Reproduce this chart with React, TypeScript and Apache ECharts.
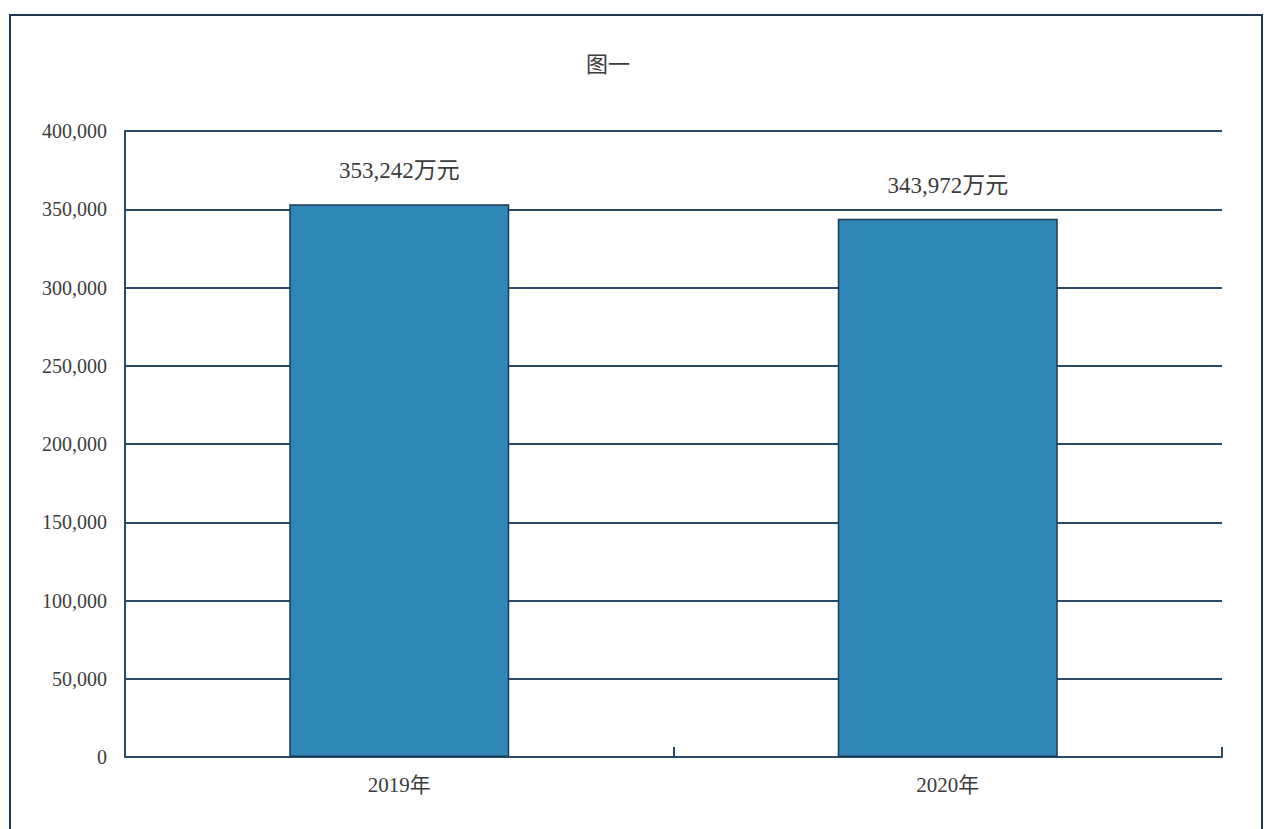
import React, { useEffect, useRef } from "react";
import * as echarts from "echarts";

const categories = ["2019年", "2020年"];
const values = [353242, 343972];
const yTicks = [0, 50000, 100000, 150000, 200000, 250000, 300000, 350000, 400000];
const titleText = "图一";

const FONT = "'Liberation Serif', 'DejaVu Serif', 'Noto Sans CJK SC', serif";

export default function App() {
  const ref = useRef<HTMLDivElement>(null);
  useEffect(() => {
    if (!ref.current) return;
    const chart = echarts.init(ref.current, undefined, { renderer: "svg" });
    const fmt = (v: number) => v.toLocaleString("en-US");
    chart.setOption({
      animation: false,
      backgroundColor: "#ffffff",
      title: {
        text: titleText,
        left: 603,
        top: 48,
        textAlign: "center",
        textStyle: { fontFamily: FONT, fontSize: 22, fontWeight: "normal", color: "#3c3c3c" },
      },
      graphic: [
        {
          type: "rect",
          shape: { x: 10, y: 15, width: 1252, height: 840 },
          style: { fill: "none", stroke: "#1f3550", lineWidth: 2 },
        },
      ],
      grid: { left: 125, right: 45, top: 131, bottom: 72 },
      xAxis: {
        type: "category",
        data: categories,
        axisLine: { lineStyle: { color: "#2b4a68", width: 2 } },
        axisTick: { show: true, inside: true, length: 10, lineStyle: { color: "#2b4a68", width: 2 } },
        axisLabel: { color: "#3c3c3c", fontSize: 21, fontFamily: FONT, margin: 17 },
      },
      yAxis: {
        type: "value",
        min: yTicks[0],
        max: yTicks[yTicks.length - 1],
        interval: yTicks[1] - yTicks[0],
        axisLine: { show: true, lineStyle: { color: "#2b4a68", width: 2 } },
        axisTick: { show: false },
        splitLine: { show: true, lineStyle: { color: "#2b4a68", width: 2 } },
        axisLabel: { color: "#3c3c3c", fontSize: 20, fontFamily: FONT, margin: 18, formatter: (v: number) => fmt(v) },
      },
      series: [
        {
          type: "bar",
          data: values,
          barWidth: 220,
          itemStyle: { color: "#2e87b6", borderColor: "#1d3a56", borderWidth: 1.5 },
          label: {
            show: true,
            position: "top",
            distance: 22,
            color: "#3c3c3c",
            fontSize: 23,
            fontFamily: FONT,
            formatter: (p: any) => fmt(p.value) + "万元",
          },
        },
      ],
    });
    return () => chart.dispose();
  }, []);
  return (
    <div
      ref={ref}
      style={{ position: "fixed", left: 0, top: 0, width: 1267, height: 829 }}
    />
  );
}
